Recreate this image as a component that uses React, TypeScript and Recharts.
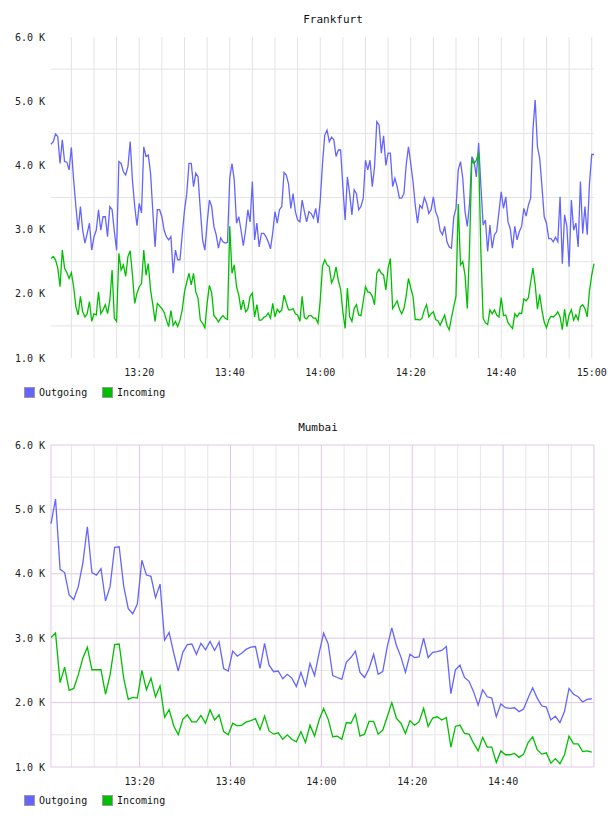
import { LineChart, Line, XAxis, YAxis, CartesianGrid } from "recharts";

// minutes after 13:00
const FRA_START = 0.5;
const FRA_STEP = 0.5;
const BOM_START = 0.5;
const BOM_STEP = 1;

const fraOutgoing = [
  4.33, 4.37, 4.49, 4.45, 4.03, 4.40, 4.06, 4.05, 3.93, 4.28,
  3.77, 3.36, 2.99, 3.36, 2.99, 2.79, 2.94, 3.10, 2.68, 2.89,
  2.99, 3.31, 2.99, 3.20, 3.20, 2.89, 3.36, 3.31, 2.97, 2.68,
  4.06, 4.03, 3.90, 3.85, 3.98, 4.37, 3.77, 3.36, 3.06, 3.41,
  3.26, 4.29, 4.14, 4.16, 3.88, 3.28, 2.73, 3.31, 3.31, 3.20,
  2.99, 2.89, 2.84, 2.89, 2.32, 2.68, 2.53, 2.53, 2.92, 3.30,
  3.56, 4.03, 4.03, 3.67, 3.88, 3.82, 3.31, 2.84, 2.68, 3.10,
  3.46, 3.36, 3.05, 2.92, 2.71, 2.87, 2.81, 2.79, 2.80, 3.80,
  4.03, 3.77, 3.10, 3.20,
  2.99, 2.75, 2.99, 3.31, 3.12, 3.75, 2.84, 3.10, 2.73, 2.94,
  2.94, 2.89, 2.81, 2.70, 2.95, 3.28, 3.10, 3.31, 3.36, 3.89,
  3.85, 3.71, 3.33, 3.56, 3.28, 3.15, 3.12, 3.46, 3.28, 3.12,
  3.28, 3.25, 3.18, 3.33, 3.10, 3.45, 4.03, 4.47, 4.55, 4.37,
  4.44, 4.40, 4.14, 4.24, 4.24, 3.67, 3.15, 3.82, 3.56, 3.23,
  3.62, 3.56, 3.31, 3.36, 3.49, 4.08, 3.93, 4.08, 3.67, 3.98,
  4.68, 4.63, 4.19, 4.46, 4.00, 4.19, 4.19, 3.67, 3.80, 3.67,
  3.49, 3.49, 3.56, 4.01, 4.29, 4.03, 3.75, 3.38, 3.10, 3.38,
  3.33, 3.50, 3.41, 3.25, 3.31, 3.51, 3.28, 3.19,
  2.98, 2.92, 3.05, 2.81, 2.73, 2.71, 3.19, 3.33, 3.93, 4.06,
  3.80, 3.28, 3.05, 3.41, 4.14, 4.06, 3.82, 4.35, 3.69, 3.07,
  3.15, 2.66, 3.07, 2.71, 2.92, 2.97, 3.28, 3.59, 3.33, 3.51,
  3.12, 3.01, 2.71, 3.05, 2.84, 2.97, 3.05, 3.33, 3.21, 3.38,
  3.49, 4.55, 5.02, 4.29, 4.11, 3.67, 3.20, 3.10, 2.86, 2.86,
  2.81, 2.88, 2.81, 3.51, 2.47, 3.23, 3.05, 2.42, 3.46, 2.99,
  3.10, 2.73, 3.75, 2.94, 3.36, 2.92, 3.72, 4.17, 4.17,
];

const fraIncoming = [
  2.55, 2.58, 2.53, 2.40, 2.11, 2.68, 2.40, 2.33, 2.24, 2.33,
  2.11, 1.80, 1.67, 1.96, 1.72, 1.64, 1.69, 1.88, 1.57, 1.69,
  1.67, 2.03, 1.69, 1.75, 1.83, 1.69, 1.90, 2.37, 1.62, 1.57,
  2.63, 2.37, 2.45, 2.27, 2.58, 2.67, 2.29, 1.85, 2.01, 2.11,
  2.16, 2.68, 2.29, 2.47, 2.06, 1.83, 1.57, 1.85, 1.81, 1.77,
  1.71, 1.59, 1.49, 1.74, 1.51, 1.57, 1.49, 1.59, 1.75, 2.03,
  2.18, 2.32, 2.14, 2.32, 2.03, 1.93, 1.59, 1.54, 1.47, 1.85,
  2.13, 2.02, 1.66, 1.62, 1.56, 1.62, 1.66, 1.62, 1.60, 3.05,
  2.32, 2.45, 2.11, 1.98,
  1.75, 1.90, 1.72, 1.76, 1.96, 2.01, 1.64, 1.83, 1.59, 1.59,
  1.63, 1.65, 1.70, 1.62, 1.85, 1.64, 1.76, 1.71, 1.75, 1.98,
  1.86, 1.75, 1.75, 1.77, 1.69, 1.67, 1.57, 1.96, 1.63, 1.61,
  1.66, 1.66, 1.62, 1.62, 1.54, 1.90, 2.43, 2.53, 2.45, 2.42,
  2.17, 2.25, 2.42, 2.21, 2.07, 1.72, 1.46, 2.09, 1.64, 1.57,
  1.77, 1.83, 1.67, 1.66, 1.88, 2.11, 2.03, 2.02, 1.96, 1.83,
  2.32, 2.38, 2.32, 2.29, 2.06, 2.40, 2.55, 1.77, 1.83, 1.89,
  1.76, 1.69, 1.77, 1.97, 2.24, 2.09, 1.96, 1.60, 1.60, 1.59,
  1.62, 1.75, 1.83, 1.64, 1.69, 1.72, 1.60, 1.58,
  1.51, 1.59, 1.67, 1.51, 1.44, 1.63, 1.80, 1.96, 3.40, 2.45,
  2.50, 2.29, 1.77, 2.73, 4.08, 4.03, 4.08, 4.20, 2.66, 1.62,
  1.55, 1.52, 1.75, 1.69, 1.75, 1.67, 1.64, 1.94, 1.66, 1.67,
  1.55, 1.50, 1.46, 1.69, 1.64, 1.70, 1.69, 1.92, 1.89, 1.94,
  2.18, 2.40, 2.14, 1.76, 1.99, 1.74, 1.56, 1.47, 1.59, 1.65,
  1.64, 1.67, 1.72, 1.64, 1.44, 1.76, 1.49, 1.67, 1.75, 1.59,
  1.67, 1.59, 1.80, 1.83, 1.77, 1.64, 2.05, 2.29, 2.47,
];

const bomOutgoing = [
  4.78, 5.16, 4.07, 4.02, 3.67, 3.60, 3.80, 4.16, 4.73, 4.02,
  3.98, 4.08, 3.58, 3.80, 4.41, 4.42, 3.81, 3.46, 3.38, 3.53,
  4.21, 3.98, 3.96, 3.63, 3.84, 2.97, 3.09, 2.77, 2.49, 2.78,
  2.90, 2.91, 2.75, 2.92, 2.82, 2.95, 2.81, 2.94, 2.53, 2.49,
  2.80, 2.72, 2.77, 2.83, 2.86, 2.87, 2.53, 2.92, 2.58, 2.48,
  2.49, 2.37, 2.44, 2.38, 2.25, 2.47, 2.26, 2.61, 2.42, 2.77,
  3.08, 2.91, 2.42, 2.39, 2.36, 2.63, 2.70, 2.80, 2.47, 2.39,
  2.53, 2.75, 2.44, 2.48, 2.87, 3.16, 2.89, 2.71, 2.47, 2.75,
  2.70, 2.71, 3.00, 2.70, 2.78, 2.79, 2.81, 2.87, 2.14, 2.51,
  2.58, 2.39, 2.33, 2.17, 1.96, 2.20, 2.09, 2.07, 1.78, 1.98,
  1.92, 1.91, 1.92, 1.86, 1.90, 2.07, 2.23, 2.07, 1.95, 1.93,
  1.73, 1.79, 1.69, 1.86, 2.22, 2.13, 2.09, 2.01, 2.05, 2.06,
];

const bomIncoming = [
  3.01, 3.08, 2.31, 2.55, 2.19, 2.22, 2.43, 2.69, 2.86, 2.51,
  2.51, 2.51, 2.13, 2.43, 2.90, 2.91, 2.38, 2.05, 2.08, 2.07,
  2.50, 2.20, 2.38, 2.09, 2.26, 1.77, 1.89, 1.64, 1.50, 1.74,
  1.81, 1.70, 1.70, 1.80, 1.68, 1.89, 1.73, 1.81, 1.55, 1.50,
  1.68, 1.64, 1.65, 1.70, 1.72, 1.75, 1.58, 1.79, 1.56, 1.51,
  1.53, 1.43, 1.50, 1.43, 1.39, 1.55, 1.38, 1.65, 1.48, 1.73,
  1.91, 1.74, 1.47, 1.48, 1.43, 1.69, 1.68, 1.82, 1.48, 1.51,
  1.71, 1.71, 1.51, 1.57, 1.78, 2.00, 1.76, 1.68, 1.52, 1.72,
  1.65, 1.70, 1.91, 1.63, 1.76, 1.78, 1.73, 1.77, 1.31, 1.63,
  1.65, 1.52, 1.51, 1.37, 1.25, 1.46, 1.31, 1.31, 1.07, 1.25,
  1.19, 1.19, 1.21, 1.15, 1.20, 1.38, 1.47, 1.27, 1.20, 1.22,
  1.06, 1.13, 1.05, 1.19, 1.48, 1.36, 1.36, 1.24, 1.25, 1.23,
];

const yTicks = [1, 2, 3, 4, 5, 6];
const yHalf = [1.5, 2.5, 3.5, 4.5, 5.5];
const fraTimeTicks = [20, 40, 60, 80, 100, 120];
const bomTimeTicks = [20, 40, 60, 80, 100];
const fiveMin = [5, 10, 15, 20, 25, 30, 35, 40, 45, 50, 55, 60, 65, 70, 75, 80, 85, 90, 95, 100, 105, 110, 115, 120];
const fiveMinMinor = fiveMin.filter((m) => m % 20 !== 0);

const BLUE = "#6464ff";
const GREEN = "#00bf00";
const FONT = "'DejaVu Sans Mono', monospace";

const build = (start: number, step: number, out: number[], inc: number[]) =>
  out.map((v, i) => ({ t: start + i * step, out: v, inc: inc[i] }));

const fraData = build(FRA_START, FRA_STEP, fraOutgoing, fraIncoming);
const bomData = build(BOM_START, BOM_STEP, bomOutgoing, bomIncoming);

const fmtTime = (m: number) => {
  const total = 13 * 60 + m;
  const h = Math.floor(total / 60);
  const mm = Math.round(total % 60);
  return `${h}:${String(mm).padStart(2, "0")}`;
};
const fmtK = (v: number) => `${v.toFixed(1)} K`;

const tickStyle = { fontSize: 10, fontFamily: FONT, fill: "#222" };

function Legend({ top }: { top: number }) {
  const item = (color: string, label: string, left: number) => (
    <div style={{ position: "absolute", left, top, display: "flex", alignItems: "center", height: 11 }}>
      <div style={{ width: 9, height: 9, background: color, border: "1px solid #999" }} />
      <span style={{ marginLeft: 4, fontFamily: FONT, fontSize: 10, color: "#111", lineHeight: "11px" }}>{label}</span>
    </div>
  );
  return (
    <>
      {item(BLUE, "Outgoing", 24)}
      {item(GREEN, "Incoming", 102)}
    </>
  );
}

function Title({ text, cx, cy }: { text: string; cx: number; cy: number }) {
  return (
    <div
      style={{
        position: "absolute", left: cx, top: cy - 7, transform: "translateX(-50%)",
        fontFamily: FONT, fontSize: 11, lineHeight: "14px", color: "#111", whiteSpace: "nowrap",
      }}
    >
      {text}
    </div>
  );
}

export default function App() {
  return (
    <div style={{ position: "absolute", left: 0, top: 0, width: 608, height: 816, background: "#fff" }}>
      <Title text="Frankfurt" cx={333} cy={20} />
      <div style={{ position: "absolute", left: 0, top: 0 }}>
        <LineChart width={608} height={380} data={fraData} margin={{ top: 37, right: 14, bottom: 0, left: 0 }}>
          <CartesianGrid stroke="#e3e3e3" verticalValues={fiveMin} horizontalValues={yHalf} />
          <XAxis
            dataKey="t" type="number" domain={[0.5, 120.5]} ticks={fraTimeTicks} interval={0}
            tickFormatter={fmtTime} axisLine={false} tickLine={false} tickSize={0} tickMargin={11}
            height={22} tick={tickStyle}
          />
          <YAxis
            type="number" domain={[1, 6]} ticks={yTicks} interval={0} tickFormatter={fmtK}
            axisLine={false} tickLine={false} tickSize={0} tickMargin={6} width={51} tick={tickStyle}
          />
          <Line type="linear" dataKey="out" stroke={BLUE} strokeWidth={1.3} dot={false} isAnimationActive={false} />
          <Line type="linear" dataKey="inc" stroke={GREEN} strokeWidth={1.3} dot={false} isAnimationActive={false} />
        </LineChart>
      </div>
      <Legend top={387} />

      <Title text="Mumbai" cx={318} cy={428} />
      <div style={{ position: "absolute", left: 0, top: 408 }}>
        <LineChart width={608} height={381} data={bomData} margin={{ top: 37, right: 14, bottom: 0, left: 0 }}>
          <CartesianGrid stroke="#e6e6e6" verticalValues={fiveMinMinor} horizontalValues={yHalf} />
          <CartesianGrid stroke="#e2c6e2" verticalValues={[0.5, ...bomTimeTicks, 120]} horizontalValues={yTicks} />
          <XAxis
            dataKey="t" type="number" domain={[0.5, 120]} ticks={bomTimeTicks} interval={0}
            tickFormatter={fmtTime} axisLine={false} tickLine={false} tickSize={0} tickMargin={11}
            height={22} tick={tickStyle}
          />
          <YAxis
            type="number" domain={[1, 6]} ticks={yTicks} interval={0} tickFormatter={fmtK}
            axisLine={false} tickLine={false} tickSize={0} tickMargin={6} width={51} tick={tickStyle}
          />
          <Line type="linear" dataKey="out" stroke={BLUE} strokeWidth={1.3} dot={false} isAnimationActive={false} />
          <Line type="linear" dataKey="inc" stroke={GREEN} strokeWidth={1.3} dot={false} isAnimationActive={false} />
        </LineChart>
      </div>
      <Legend top={795} />
    </div>
  );
}
